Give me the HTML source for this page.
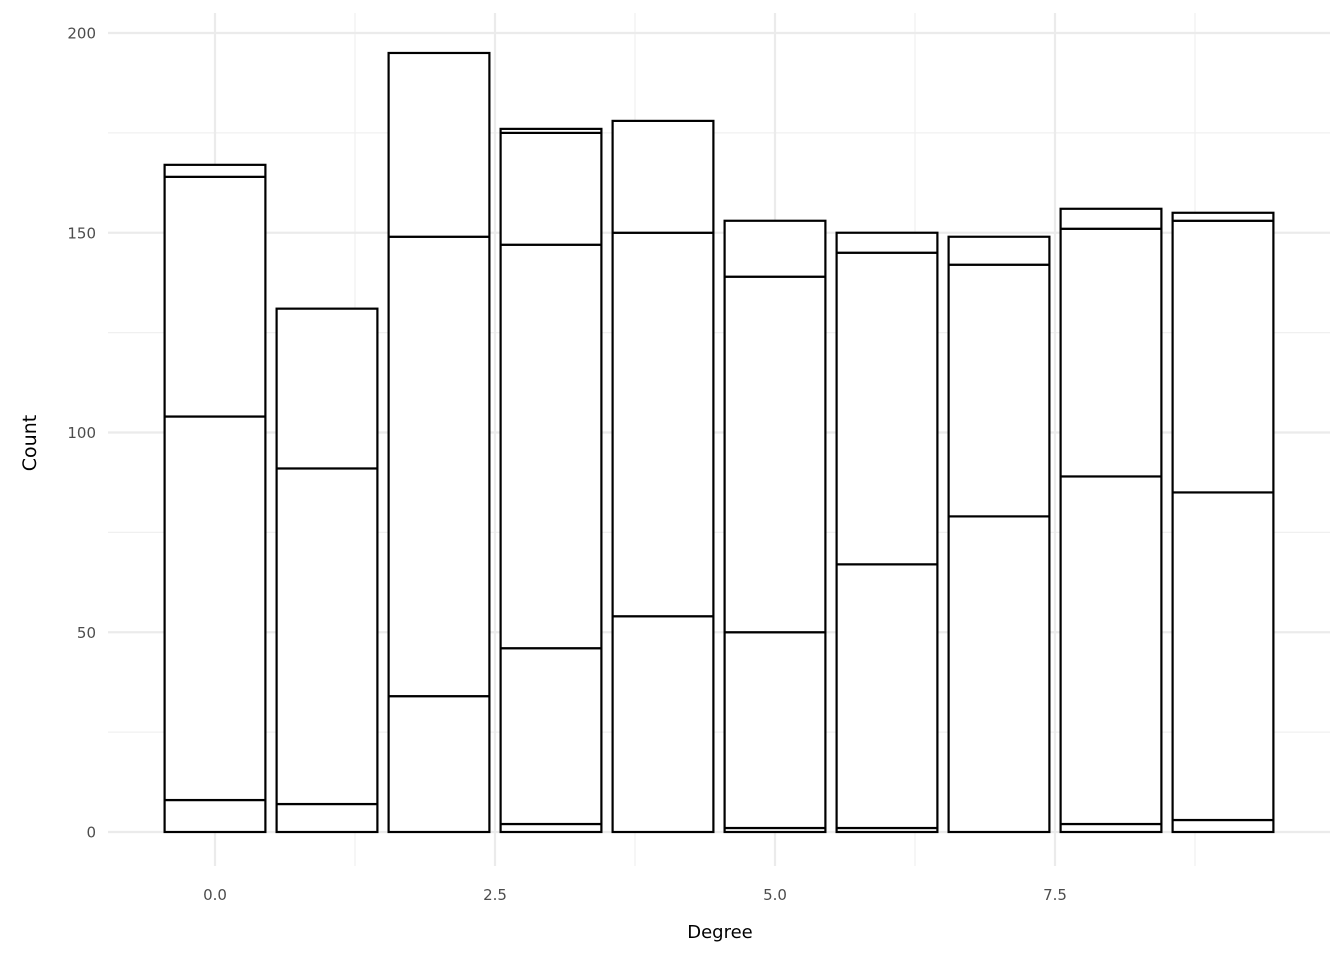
<!DOCTYPE html>
<html><head><meta charset="utf-8"><style>
html,body{margin:0;padding:0;background:#fff;}
svg{display:block;font-family:"DejaVu Sans","Liberation Sans",sans-serif;}
</style></head><body>
<svg id="chart" width="1344" height="960" viewBox="0 0 1344 960" xmlns="http://www.w3.org/2000/svg">
<g id="grid"></g>
<g id="bars"></g>
<g id="axes"></g>
<text x="720" y="938" font-size="18" text-anchor="middle" fill="#000">Degree</text>
<text transform="translate(36,443) rotate(-90)" font-size="19" text-anchor="middle" fill="#000">Count</text>
</svg>
<script>
const categories = [0,1,2,3,4,5,6,7,8,9];
const series1 = [8,7,34,2,54,1,1,79,2,3];
const series2 = [96,84,115,44,96,49,66,63,87,82];
const series3 = [60,40,46,101,28,89,78,7,62,68];
const series4 = [3,0,0,28,0,14,5,0,5,2];
const series5 = [0,0,0,1,0,0,0,0,0,0];
const xTickValues = [0,2.5,5,7.5];
const xTickLabels = ["0.0","2.5","5.0","7.5"];
const yTickValues = [0,50,100,150,200];
const yTickLabels = ["0","50","100","150","200"];

const NS="http://www.w3.org/2000/svg";
const xs = v => 215 + v*112;
const ys = v => 832 - v*3.995;
const plotLeft=108, plotRight=1330, plotTop=13, plotBottom=866;
const grid=document.getElementById('grid'), bars=document.getElementById('bars'), axes=document.getElementById('axes');
function mk(tag, attrs, parent){const e=document.createElementNS(NS,tag);for(const k in attrs)e.setAttribute(k,attrs[k]);parent.appendChild(e);return e;}
for(let i=0;i<xTickValues.length;i++){
  const m=xTickValues[i]+1.25;
  const l=mk('line',{x1:xs(m),x2:xs(m),y1:plotTop,y2:plotBottom,stroke:'#f0f0f0','stroke-width':1.2},grid);
  
  
}
for(let i=0;i<yTickValues.length-1;i++){
  const m=yTickValues[i]+25;
  const l=mk('line',{x1:plotLeft,x2:plotRight,y1:ys(m),y2:ys(m),stroke:'#f0f0f0','stroke-width':1.2},grid);
  
  
}
xTickValues.forEach((v,i)=>{
  const l=mk('line',{x1:xs(v),x2:xs(v),y1:plotTop,y2:plotBottom,stroke:'#ebebeb','stroke-width':2.2},grid);
  
  
  const t=mk('text',{x:xs(v),y:900,'font-size':15,'text-anchor':'middle',fill:'#4d4d4d'},axes);
  t.textContent=xTickLabels[i];
  
  
});
yTickValues.forEach((v,i)=>{
  const l=mk('line',{x1:plotLeft,x2:plotRight,y1:ys(v),y2:ys(v),stroke:'#ebebeb','stroke-width':2.2},grid);
  
  
  const t=mk('text',{x:96,y:ys(v)+5.5,'font-size':15,'text-anchor':'end',fill:'#4d4d4d'},axes);
  t.textContent=yTickLabels[i];
  
  
});
const allSeries=[series1,series2,series3,series4,series5];
categories.forEach((c,i)=>{
  let base=0;
  allSeries.forEach((s,si)=>{
    const v=s[i]; if(!v) return;
    const r=mk('rect',{x:xs(c-0.45),width:xs(c+0.45)-xs(c-0.45),y:ys(base+v),height:ys(base)-ys(base+v),fill:'#fff',stroke:'#000','stroke-width':2.2},bars);
    
    
    base+=v;
  });
});
</script>
</body></html>
